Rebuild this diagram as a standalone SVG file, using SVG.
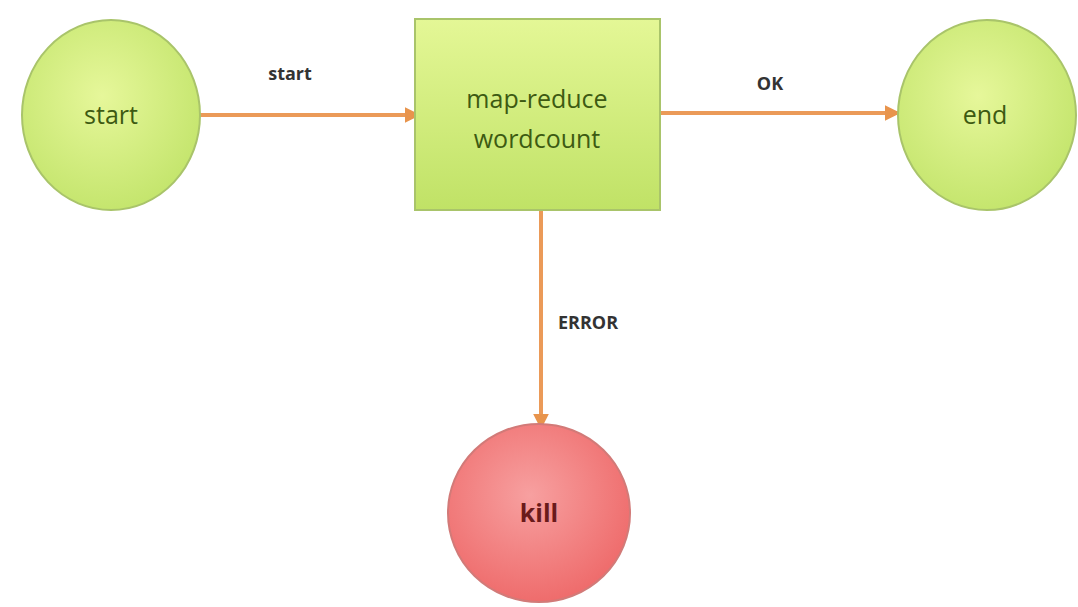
<svg xmlns="http://www.w3.org/2000/svg" width="1078" height="607" viewBox="0 0 1078 607">
<defs>
<radialGradient id="gg" cx="0.45" cy="0.4" r="0.65">
<stop offset="0" stop-color="#e6f79a"/>
<stop offset="1" stop-color="#c2e46a"/>
</radialGradient>
<linearGradient id="gr" x1="0" y1="0" x2="0" y2="1">
<stop offset="0" stop-color="#e4f796"/>
<stop offset="1" stop-color="#c0e266"/>
</linearGradient>
<radialGradient id="rg" cx="0.45" cy="0.4" r="0.65">
<stop offset="0" stop-color="#f7a0a0"/>
<stop offset="1" stop-color="#ee6868"/>
</radialGradient>
<marker id="ah" viewBox="0 0 10 10" refX="9" refY="5" markerWidth="4" markerHeight="4" orient="auto" markerUnits="strokeWidth">
<path d="M0,0 L10,5 L0,10 z" fill="#e8944c"/>
</marker>
<style>
.node{stroke:#a9c46a;stroke-width:2}
.kill{stroke:#d27a78;stroke-width:2}
.nt{font-family:"Open Sans","Liberation Sans",sans-serif;font-size:25px;fill:#3d5a12;text-anchor:middle}
.kt{font-family:"Open Sans","Liberation Sans",sans-serif;font-size:25px;font-weight:bold;fill:#6a1a1a;text-anchor:middle}
.lbl{font-family:"Open Sans","Liberation Sans",sans-serif;font-size:18px;font-weight:bold;fill:#333;text-anchor:middle}
.edge{stroke:#eb9a58;stroke-width:4;fill:none;marker-end:url(#ah)}
</style>
</defs>
<rect width="1078" height="607" fill="#ffffff"/>
<g id="connectors">
<line class="edge" x1="200" y1="115" x2="419" y2="115"/>
<line class="edge" x1="660" y1="113" x2="899" y2="113"/>
<line class="edge" x1="541" y1="210" x2="541" y2="428"/>
<text class="lbl" x="290" y="80">start</text>
<text class="lbl" x="770" y="90">OK</text>
<text class="lbl" x="588" y="329">ERROR</text>
</g>
<g id="node-start">
<ellipse class="node" cx="111" cy="115" rx="89" ry="95" fill="url(#gg)"/>
<text class="nt" x="111" y="124">start</text>
</g>
<g id="node-mapreduce">
<rect class="node" x="415" y="19" width="245" height="191" fill="url(#gr)"/>
<text class="nt" x="537" y="108">map-reduce</text>
<text class="nt" x="537" y="148">wordcount</text>
</g>
<g id="node-end">
<ellipse class="node" cx="987" cy="115" rx="89" ry="95" fill="url(#gg)"/>
<text class="nt" x="985" y="124">end</text>
</g>
<g id="node-kill">
<ellipse class="kill" cx="539" cy="513" rx="91" ry="89" fill="url(#rg)"/>
<text class="kt" x="539" y="522">kill</text>
</g>
</svg>
